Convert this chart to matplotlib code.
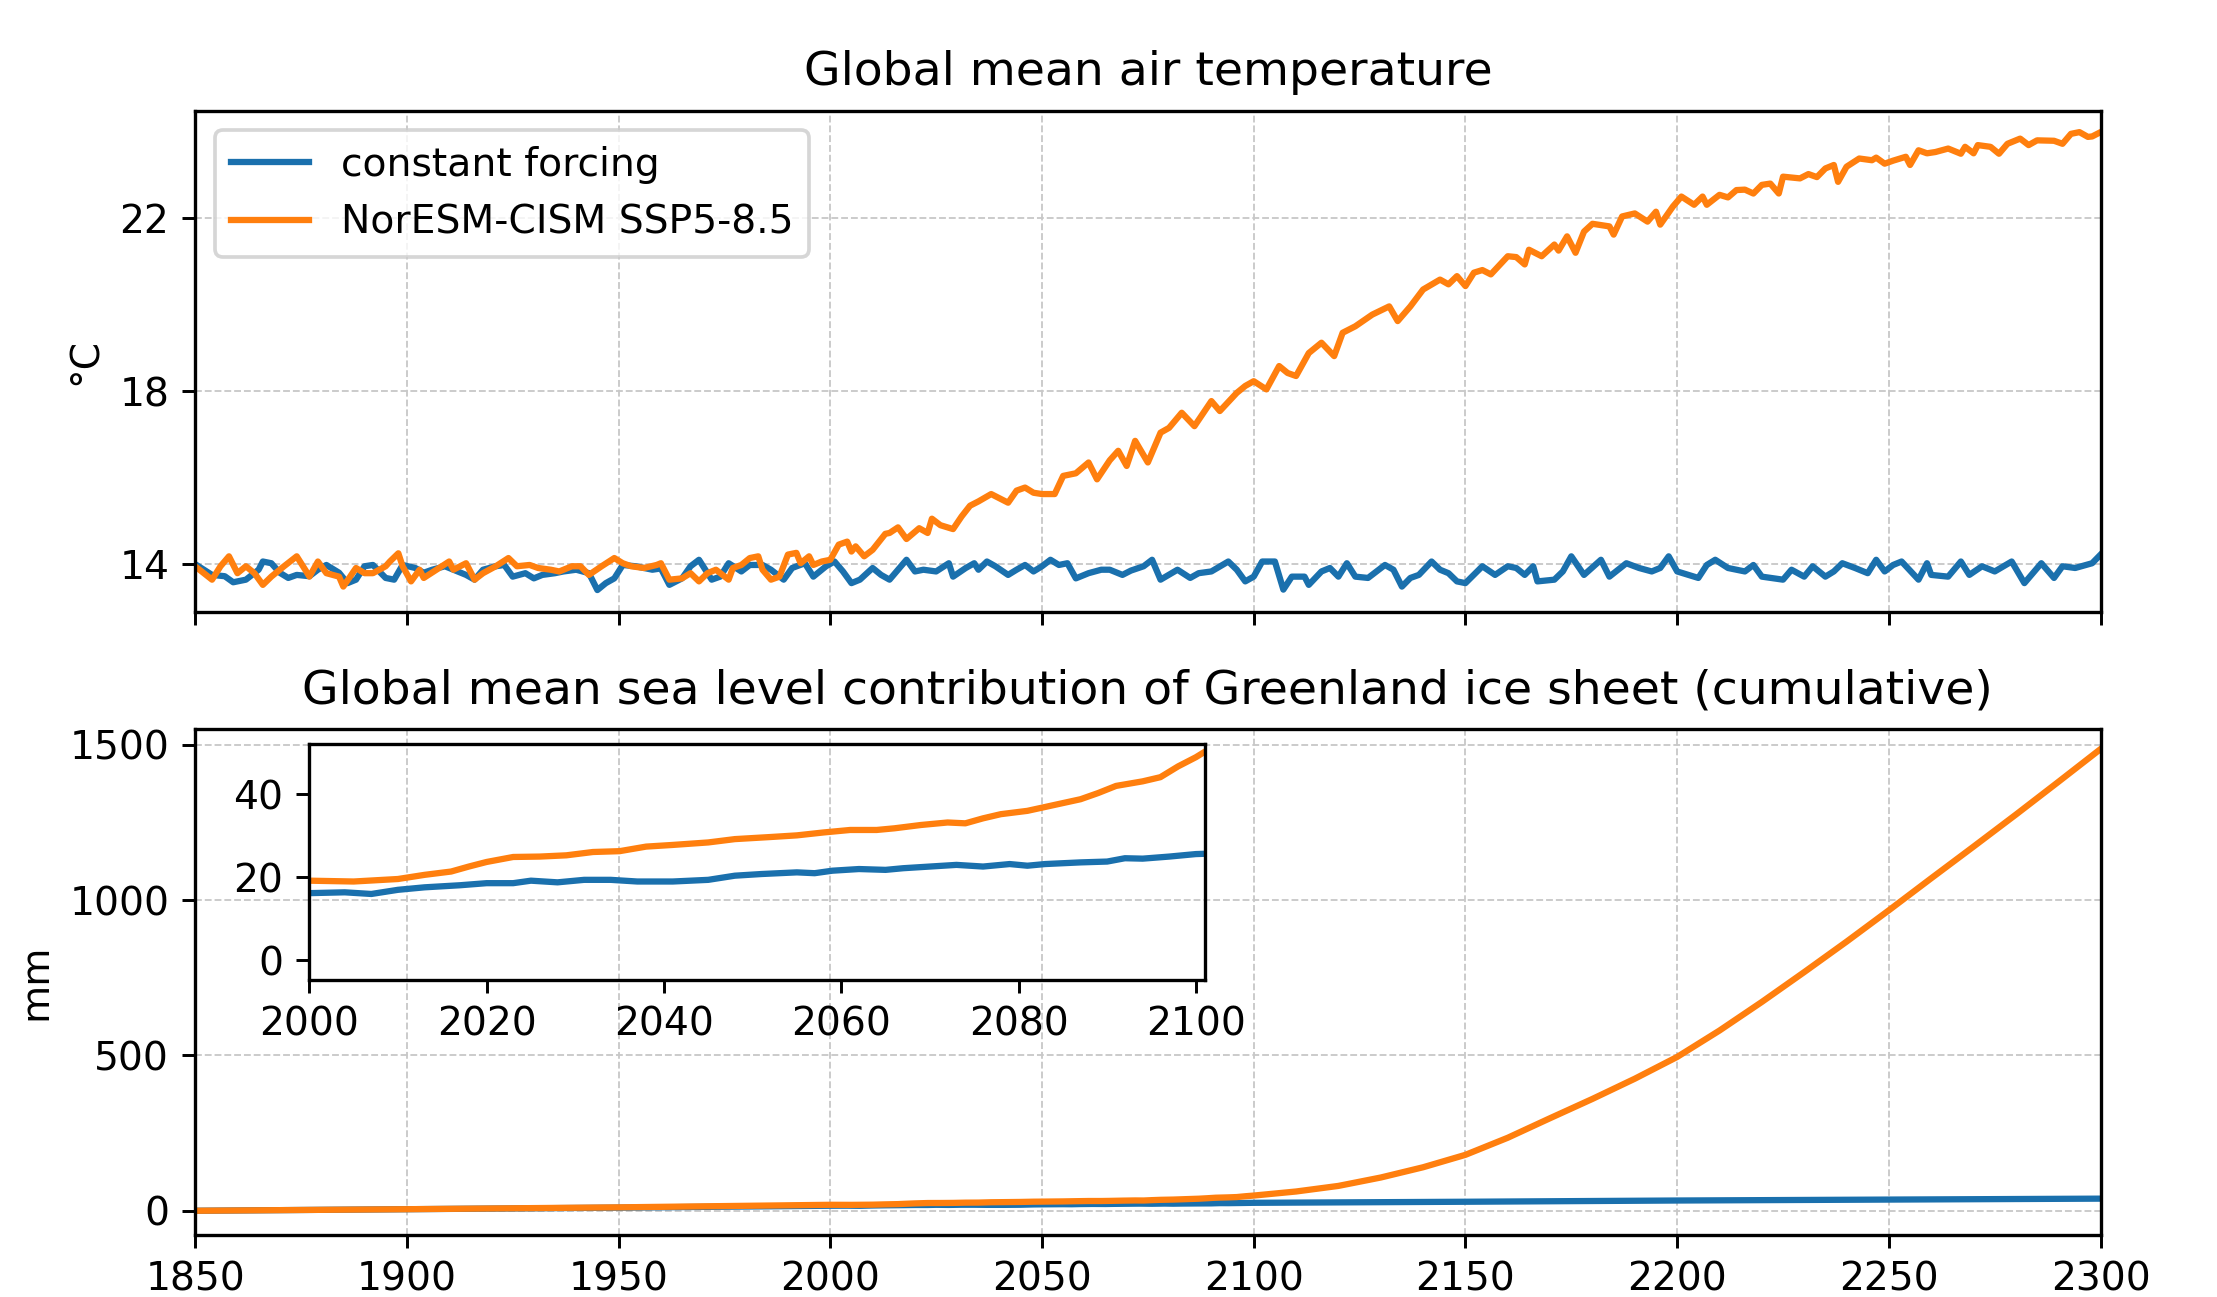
import matplotlib

matplotlib.use("Agg")

import matplotlib.pyplot as plt

BLUE = "#1a70ad"
ORANGE = "#ff7f0e"

plt.rcParams["font.size"] = 10.65
plt.rcParams["axes.titlesize"] = 12.8
plt.rcParams["lines.linewidth"] = 1.7
plt.rcParams["axes.linewidth"] = 0.9

# Global mean air temperature (degC)
temp_ctrl_years = [
    1850, 1854, 1857, 1859, 1862, 1865, 1866, 1868, 1870, 1872, 1874, 1877, 1879, 1881, 1884,
    1886, 1888, 1890, 1892, 1895, 1897, 1899, 1902, 1904, 1906, 1909, 1911, 1914, 1916, 1918,
    1921, 1923, 1925, 1928, 1930, 1932, 1935, 1937, 1940, 1943, 1945, 1947, 1949, 1951, 1954,
    1958, 1960, 1962, 1965, 1967, 1969, 1972, 1974, 1976, 1979, 1981, 1984, 1986, 1989, 1991,
    1994, 1996, 1999, 2001, 2003, 2005, 2007, 2010, 2012, 2014, 2016, 2018, 2020, 2022, 2025,
    2028, 2029, 2032, 2034, 2035, 2037, 2039, 2042, 2044, 2046, 2048, 2050, 2052, 2054, 2056,
    2058, 2061, 2064, 2066, 2069, 2071, 2074, 2076, 2078, 2082, 2085, 2087, 2090, 2094, 2096,
    2098, 2100, 2102, 2105, 2107, 2109, 2112, 2113, 2116, 2118, 2120, 2122, 2124, 2127, 2131,
    2133, 2135, 2137, 2139, 2142, 2144, 2146, 2148, 2150, 2154, 2157, 2160, 2162, 2164, 2166,
    2167, 2171, 2173, 2175, 2178, 2182, 2184, 2188, 2191, 2194, 2196, 2198, 2200, 2205, 2207,
    2209, 2212, 2216, 2218, 2220, 2225, 2227, 2230, 2232, 2235, 2237, 2239, 2242, 2245, 2247,
    2249, 2251, 2253, 2257, 2259, 2260, 2264, 2267, 2269, 2272, 2275, 2279, 2282, 2284, 2286,
    2289, 2291, 2294, 2298, 2300,
]
temp_ctrl = [
    14.00, 13.75, 13.72, 13.58, 13.64, 13.87, 14.06, 14.02, 13.80, 13.68, 13.75, 13.72, 13.87, 13.98, 13.80,
    13.56, 13.64, 13.95, 13.98, 13.68, 13.64, 13.98, 13.91, 13.80, 13.87, 13.95, 13.87, 13.75, 13.64, 13.87,
    13.95, 13.98, 13.71, 13.79, 13.67, 13.75, 13.79, 13.83, 13.87, 13.79, 13.40, 13.56, 13.67, 13.98, 13.95,
    13.87, 13.90, 13.52, 13.67, 13.95, 14.10, 13.64, 13.71, 14.02, 13.83, 13.98, 13.98, 13.87, 13.64, 13.91,
    14.02, 13.71, 13.95, 14.06, 13.83, 13.56, 13.64, 13.91, 13.75, 13.64, 13.87, 14.10, 13.83, 13.87, 13.83,
    14.02, 13.71, 13.91, 14.02, 13.87, 14.06, 13.95, 13.75, 13.87, 13.98, 13.83, 13.95, 14.10, 13.98, 14.02,
    13.67, 13.79, 13.87, 13.87, 13.75, 13.85, 13.95, 14.10, 13.64, 13.87, 13.68, 13.79, 13.83, 14.06, 13.87,
    13.60, 13.71, 14.06, 14.06, 13.41, 13.71, 13.71, 13.52, 13.83, 13.91, 13.71, 14.02, 13.71, 13.68, 13.98,
    13.87, 13.48, 13.68, 13.75, 14.06, 13.87, 13.79, 13.60, 13.56, 13.95, 13.75, 13.95, 13.91, 13.75, 13.95,
    13.60, 13.64, 13.83, 14.18, 13.75, 14.10, 13.71, 14.02, 13.91, 13.83, 13.91, 14.18, 13.83, 13.68, 13.98,
    14.10, 13.91, 13.83, 13.98, 13.71, 13.64, 13.87, 13.71, 13.95, 13.71, 13.83, 14.02, 13.91, 13.79, 14.10,
    13.83, 13.98, 14.06, 13.64, 14.02, 13.75, 13.71, 14.06, 13.75, 13.95, 13.83, 14.06, 13.56, 13.79, 14.02,
    13.68, 13.95, 13.91, 14.02, 14.22,
]

temp_ssp_years = [
    1850, 1854, 1856, 1858, 1860, 1862, 1864, 1866, 1868, 1871, 1874, 1876, 1877, 1879, 1881,
    1884, 1885, 1888, 1890, 1892, 1895, 1896, 1898, 1899, 1901, 1903, 1904, 1907, 1910, 1911,
    1914, 1916, 1918, 1921, 1924, 1926, 1929, 1931, 1934, 1936, 1939, 1941, 1943, 1946, 1949,
    1951, 1953, 1956, 1959, 1960, 1962, 1965, 1967, 1969, 1971, 1973, 1976, 1977, 1979, 1981,
    1983, 1984, 1986, 1988, 1990, 1992, 1993, 1995, 1996, 1998, 2000, 2002, 2004, 2005, 2006,
    2008, 2010, 2013, 2014, 2016, 2018, 2021, 2023, 2024, 2026, 2029, 2031, 2033, 2035, 2038,
    2042, 2044, 2046, 2048, 2050, 2053, 2055, 2058, 2061, 2063, 2066, 2068, 2070, 2072, 2075,
    2078, 2080, 2083, 2086, 2090, 2092, 2096, 2098, 2100, 2103, 2106, 2108, 2110, 2113, 2116,
    2119, 2121, 2124, 2128, 2132, 2134, 2137, 2140, 2144, 2146, 2148, 2150, 2152, 2154, 2156,
    2160, 2162, 2164, 2165, 2168, 2171, 2172, 2174, 2176, 2178, 2180, 2184, 2185, 2187, 2190,
    2193, 2195, 2196, 2199, 2201, 2204, 2206, 2207, 2210, 2212, 2214, 2216, 2218, 2220, 2222,
    2224, 2225, 2229, 2231, 2233, 2235, 2237, 2238, 2240, 2243, 2246, 2247, 2249, 2251, 2254,
    2255, 2257, 2259, 2261, 2264, 2267, 2268, 2270, 2271, 2274, 2276, 2278, 2281, 2283, 2285,
    2289, 2291, 2293, 2295, 2297, 2298, 2300,
]
temp_ssp = [
    13.95, 13.64, 13.95, 14.18, 13.79, 13.95, 13.79, 13.52, 13.71, 13.95, 14.18, 13.87, 13.71, 14.06, 13.79,
    13.71, 13.48, 13.91, 13.79, 13.79, 13.95, 14.06, 14.25, 13.95, 13.60, 13.87, 13.68, 13.87, 14.06, 13.87,
    14.02, 13.64, 13.79, 13.95, 14.14, 13.95, 13.98, 13.91, 13.87, 13.83, 13.95, 13.95, 13.75, 13.95, 14.14,
    14.02, 13.95, 13.91, 13.98, 14.02, 13.64, 13.67, 13.79, 13.60, 13.79, 13.87, 13.64, 13.91, 13.98, 14.14,
    14.18, 13.87, 13.64, 13.71, 14.22, 14.26, 14.02, 14.18, 13.98, 14.06, 14.10, 14.45, 14.52, 14.29, 14.41,
    14.18, 14.33, 14.70, 14.72, 14.85, 14.58, 14.83, 14.72, 15.05, 14.90, 14.81, 15.10, 15.35, 15.45, 15.62,
    15.42, 15.70, 15.77, 15.65, 15.62, 15.62, 16.04, 16.10, 16.35, 15.96, 16.40, 16.62, 16.27, 16.85, 16.35,
    17.04, 17.15, 17.50, 17.19, 17.77, 17.54, 17.96, 18.12, 18.23, 18.04, 18.58, 18.42, 18.35, 18.88, 19.12,
    18.81, 19.35, 19.50, 19.77, 19.96, 19.62, 19.96, 20.35, 20.58, 20.47, 20.66, 20.43, 20.74, 20.80, 20.70,
    21.12, 21.10, 20.93, 21.27, 21.12, 21.39, 21.25, 21.58, 21.20, 21.69, 21.87, 21.81, 21.62, 22.04, 22.11,
    21.92, 22.15, 21.85, 22.27, 22.50, 22.31, 22.50, 22.31, 22.54, 22.48, 22.65, 22.66, 22.57, 22.77, 22.80,
    22.57, 22.96, 22.92, 23.02, 22.95, 23.15, 23.23, 22.84, 23.19, 23.38, 23.34, 23.40, 23.26, 23.33, 23.42,
    23.23, 23.57, 23.50, 23.53, 23.61, 23.49, 23.65, 23.50, 23.69, 23.65, 23.49, 23.72, 23.84, 23.69, 23.80,
    23.79, 23.72, 23.95, 23.99, 23.88, 23.89, 23.99,
]

# Cumulative sea level contribution (mm)
slr_ctrl_years = [
    1850, 1900, 1950, 2000, 2004, 2007, 2010, 2013, 2017, 2020, 2023, 2025, 2028, 2031, 2034,
    2037, 2041, 2045, 2048, 2051, 2055, 2057, 2059, 2062, 2065, 2067, 2070, 2073, 2076, 2079,
    2081, 2083, 2087, 2090, 2092, 2094, 2097, 2100, 2150, 2200, 2250, 2300,
]
slr_ctrl = [
    0.0, 5.0, 10.0, 16.2, 16.4, 16.0, 17.0, 17.6, 18.1, 18.6, 18.6, 19.2, 18.8, 19.4, 19.4,
    19.0, 19.0, 19.4, 20.4, 20.8, 21.2, 21.0, 21.6, 22.0, 21.8, 22.2, 22.6, 23.0, 22.6, 23.2,
    22.8, 23.2, 23.6, 23.8, 24.6, 24.5, 25.0, 25.6, 29.0, 33.0, 36.0, 39.0,
]

slr_ssp_years = [
    1850, 1900, 1950, 2000, 2005, 2010, 2013, 2016, 2018, 2020, 2023, 2026, 2029, 2032, 2035,
    2038, 2041, 2045, 2048, 2052, 2055, 2058, 2061, 2064, 2066, 2069, 2072, 2074, 2076, 2078,
    2081, 2084, 2087, 2089, 2091, 2094, 2096, 2098, 2100, 2110, 2120, 2130, 2140, 2150, 2160,
    2170, 2180, 2190, 2200, 2210, 2220, 2230, 2240, 2250, 2260, 2270, 2280, 2290, 2300,
]
slr_ssp = [
    0.0, 5.0, 11.0, 19.2, 19.0, 19.6, 20.6, 21.4, 22.6, 23.7, 24.9, 25.0, 25.3, 26.1, 26.3,
    27.4, 27.8, 28.4, 29.2, 29.7, 30.1, 30.8, 31.4, 31.4, 31.8, 32.6, 33.2, 33.0, 34.2, 35.2,
    36.0, 37.4, 38.8, 40.3, 42.0, 43.1, 44.1, 46.7, 48.9, 62.0, 80.0, 107.0, 140.0, 180.0, 235.0,
    298.0, 360.0, 425.0, 495.0, 580.0, 672.0, 768.0, 866.0, 967.0, 1070.0, 1172.0, 1275.0, 1380.0, 1486.0,
]

W, H, DPI = 2217, 1297, 266
fig = plt.figure(figsize=(W / DPI, H / DPI), dpi=DPI)

ax1 = fig.add_axes([0.0880, 0.5284, 0.8595, 0.3864])
ax2 = fig.add_axes([0.0880, 0.0478, 0.8595, 0.3898], sharex=ax1)
axin = fig.add_axes([0.1395, 0.2444, 0.4039, 0.1817])

grid_kw = dict(color="#c8c8c8", ls="--", lw=0.5)

# Temperature panel
ax1.plot(temp_ctrl_years, temp_ctrl, color=BLUE, label="constant forcing")
ax1.plot(temp_ssp_years, temp_ssp, color=ORANGE, label="NorESM-CISM SSP5-8.5")
ax1.set_xlim(1850, 2300)
ax1.set_ylim(12.9, 24.49)
ax1.set_yticks([14, 18, 22])
ax1.set_ylabel("°C")
ax1.set_title("Global mean air temperature", pad=7)
ax1.tick_params(labelbottom=False)
ax1.grid(True, **grid_kw)
ax1.legend(loc="upper left")

# Sea level panel
ax2.plot(slr_ctrl_years, slr_ctrl, color=BLUE)
ax2.plot(slr_ssp_years, slr_ssp, color=ORANGE)
ax2.set_ylim(-78, 1549)
ax2.set_yticks([0, 500, 1000, 1500])
ax2.set_xticks(range(1850, 2301, 50))
ax2.set_ylabel("mm")
ax2.set_title("Global mean sea level contribution of Greenland ice sheet (cumulative)", pad=7)
ax2.grid(True, **grid_kw)

# Inset zoom on 2000-2100
axin.set_facecolor("none")
axin.plot(slr_ctrl_years, slr_ctrl, color=BLUE)
axin.plot(slr_ssp_years, slr_ssp, color=ORANGE)
axin.set_xlim(2000, 2101)
axin.set_ylim(-4.7, 52)
axin.set_xticks(range(2000, 2101, 20))
axin.set_yticks([0, 20, 40])

fig.savefig("out.png", dpi=DPI)
plt.close(fig)
